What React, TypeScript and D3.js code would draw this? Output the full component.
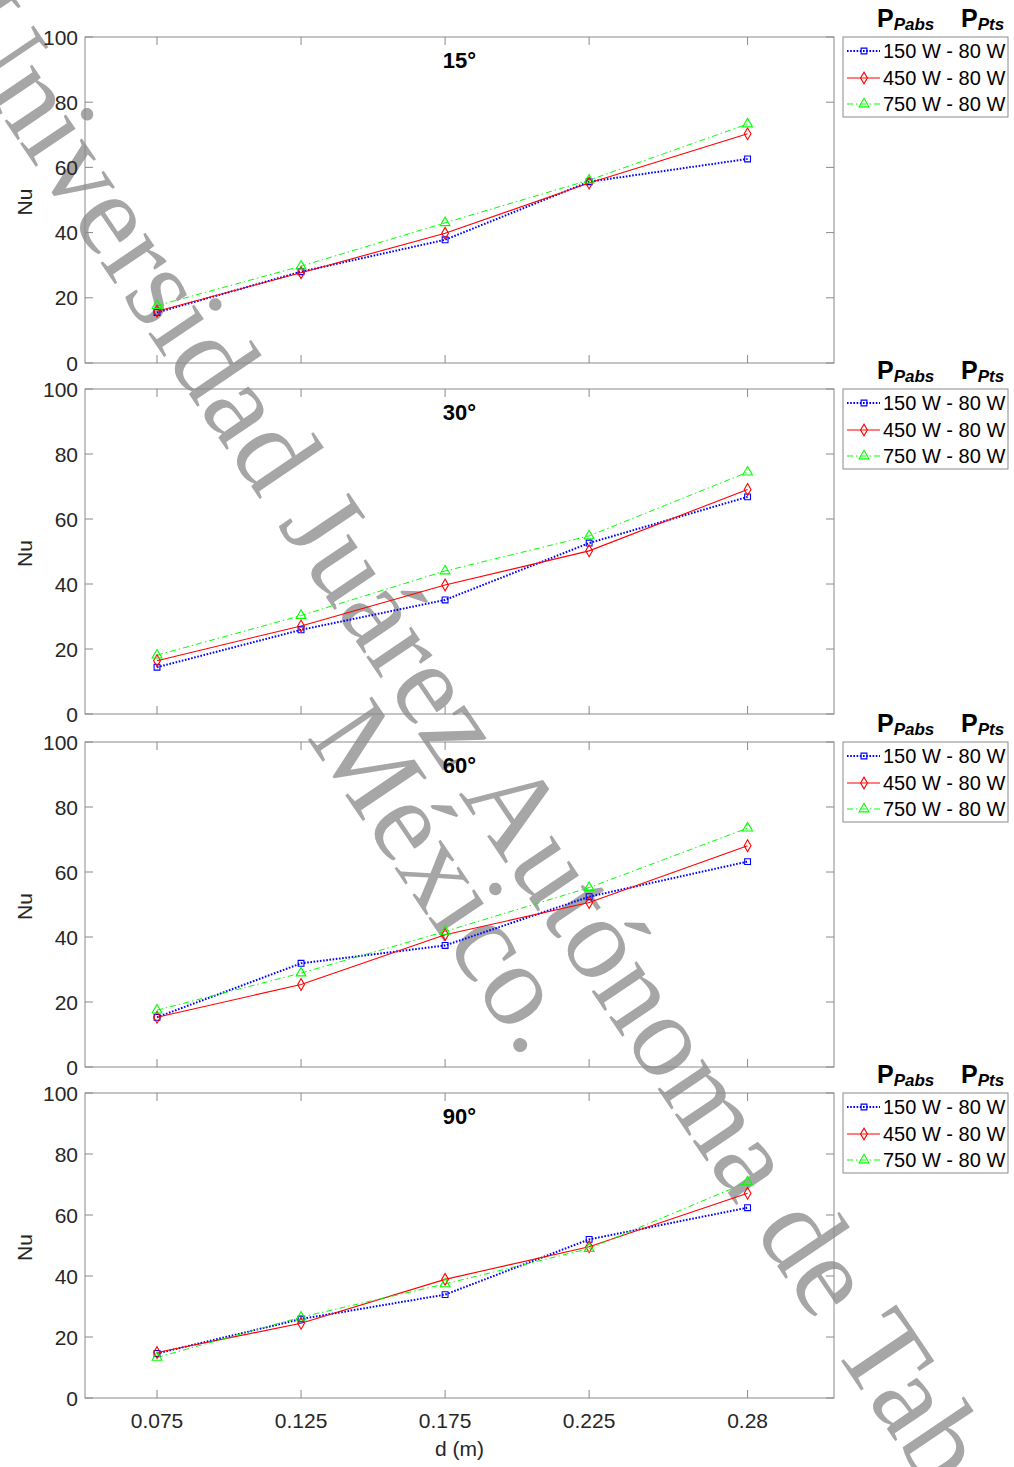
import React from "react";
import * as d3 from "d3";

const dValues = [0.075, 0.125, 0.175, 0.225, 0.28];
const xTickLabels = ["0.075", "0.125", "0.175", "0.225", "0.28"];
const yTicks = [0, 20, 40, 60, 80, 100];
const panelTitles = ["15°", "30°", "60°", "90°"];
const seriesLabels = ["150 W - 80 W", "450 W - 80 W", "750 W - 80 W"];

const nu15_150 = [15.5, 28.0, 37.8, 55.6, 62.6];
const nu15_450 = [15.9, 27.7, 39.8, 55.2, 70.3];
const nu15_750 = [17.6, 29.7, 43.0, 56.1, 73.3];

const nu30_150 = [14.4, 25.9, 35.1, 52.6, 66.8];
const nu30_450 = [16.4, 27.1, 39.7, 50.2, 69.1];
const nu30_750 = [18.1, 30.3, 44.0, 54.8, 74.4];

const nu60_150 = [15.3, 31.9, 37.4, 52.4, 63.2];
const nu60_450 = [15.3, 25.4, 40.7, 50.6, 68.1];
const nu60_750 = [17.5, 28.9, 41.7, 55.2, 73.5];

const nu90_150 = [14.6, 25.9, 33.9, 52.0, 62.4];
const nu90_450 = [14.9, 24.5, 38.9, 49.6, 67.1];
const nu90_750 = [13.3, 26.5, 37.4, 49.0, 70.8];

const panelSeries = [
  [nu15_150, nu15_450, nu15_750],
  [nu30_150, nu30_450, nu30_750],
  [nu60_150, nu60_450, nu60_750],
  [nu90_150, nu90_450, nu90_750],
];

const W = 1014;
const H = 1467;
const axLeft = 85;
const axRight = 834;
const panelTops = [37, 389, 742, 1093];
const panelBottoms = [363, 714, 1067, 1398];

const colors = ["#0000ff", "#ff0000", "#00ff00"];
const dashes = ["1.6,1.6", null, "6,3,1.5,3"];
const widths = [2, 1.1, 1];
const symbols = [d3.symbolSquare, d3.symbolDiamond, d3.symbolTriangle];
const symSizes = [34, 40, 42];

const axisColor = "#8a8a8a";
const textColor = "#262626";
const font = "'Liberation Sans', Arial, Helvetica, sans-serif";

const x = d3.scaleLinear().domain([0.05, 0.31]).range([axLeft, axRight]);

function Marker({ i, cx, cy }: { i: number; cx: number; cy: number }) {
  const p = d3.symbol().type(symbols[i]).size(symSizes[i])();
  return (
    <path
      d={p || ""}
      transform={`translate(${cx},${cy})`}
      fill="none"
      stroke={colors[i]}
      strokeWidth={1.1}
    />
  );
}

function Panel({ k }: { k: number }) {
  const top = panelTops[k];
  const bottom = panelBottoms[k];
  const y = d3.scaleLinear().domain([0, 100]).range([bottom, top]);
  const series = panelSeries[k];
  const isLast = k === panelTops.length - 1;
  const line = d3
    .line<number>()
    .x((_, j) => x(dValues[j]))
    .y((v) => y(v));
  const legTop = top;
  const legLeft = 843;
  const legRight = 1008;
  const rowY = [14, 41, 67];
  return (
    <g>
      <rect
        x={axLeft}
        y={top}
        width={axRight - axLeft}
        height={bottom - top}
        fill="none"
        stroke={axisColor}
        strokeWidth={1}
      />
      {dValues.map((d, j) => (
        <g key={"xt" + j}>
          <line x1={x(d)} x2={x(d)} y1={bottom} y2={bottom - 8} stroke={axisColor} />
          <line x1={x(d)} x2={x(d)} y1={top} y2={top + 8} stroke={axisColor} />
        </g>
      ))}
      {yTicks.map((t) => (
        <g key={"yt" + t}>
          <line x1={axLeft} x2={axLeft + 8} y1={y(t)} y2={y(t)} stroke={axisColor} />
          <line x1={axRight} x2={axRight - 8} y1={y(t)} y2={y(t)} stroke={axisColor} />
          <text
            x={78}
            y={y(t)}
            textAnchor="end"
            dominantBaseline="central"
            fontSize={21}
            fontFamily={font}
            fill={textColor}
          >
            {t}
          </text>
        </g>
      ))}
      <text
        transform={`translate(24,${(top + bottom) / 2 + 2}) rotate(-90)`}
        textAnchor="middle"
        dominantBaseline="central"
        fontSize={21}
        fontFamily={font}
        fill={textColor}
      >
        Nu
      </text>
      <text
        x={(axLeft + axRight) / 2}
        y={top + 31}
        textAnchor="middle"
        fontSize={22}
        fontWeight="bold"
        fontFamily={font}
        fill="#000"
      >
        {panelTitles[k]}
      </text>
      {series.map((s, i) => (
        <path
          key={"l" + i}
          d={line(s) || ""}
          fill="none"
          stroke={colors[i]}
          strokeWidth={widths[i]}
          strokeDasharray={dashes[i] || undefined}
        />
      ))}
      {series.map((s, i) =>
        s.map((v, j) => <Marker key={`m${i}-${j}`} i={i} cx={x(dValues[j])} cy={y(v)} />)
      )}
      {isLast &&
        dValues.map((d, j) => (
          <text
            key={"xl" + j}
            x={x(d)}
            y={bottom + 30}
            textAnchor="middle"
            fontSize={21}
            fontFamily={font}
            fill={textColor}
          >
            {xTickLabels[j]}
          </text>
        ))}
      {isLast && (
        <text
          x={(axLeft + axRight) / 2}
          y={bottom + 58}
          textAnchor="middle"
          fontSize={21}
          fontFamily={font}
          fill={textColor}
        >
          d (m)
        </text>
      )}
      {/* legend */}
      <text x={877} y={legTop - 10} fontFamily={font} fill="#000">
        <tspan fontSize={25} fontWeight="bold">P</tspan>
        <tspan fontSize={17} fontWeight="bold" fontStyle="italic" dy={3}>Pabs</tspan>
      </text>
      <text x={961} y={legTop - 10} fontFamily={font} fill="#000">
        <tspan fontSize={25} fontWeight="bold">P</tspan>
        <tspan fontSize={17} fontWeight="bold" fontStyle="italic" dy={3}>Pts</tspan>
      </text>
      <rect
        x={legLeft}
        y={legTop}
        width={legRight - legLeft}
        height={80}
        fill="#fff"
        stroke={axisColor}
        strokeWidth={1}
      />
      {seriesLabels.map((lab, i) => (
        <g key={"lg" + i}>
          <line
            x1={847}
            x2={880}
            y1={legTop + rowY[i]}
            y2={legTop + rowY[i]}
            stroke={colors[i]}
            strokeWidth={widths[i]}
            strokeDasharray={dashes[i] || undefined}
          />
          <Marker i={i} cx={864} cy={legTop + rowY[i]} />
          <text
            x={883}
            y={legTop + rowY[i]}
            dominantBaseline="central"
            fontSize={20}
            fontFamily={font}
            fill="#000"
          >
            {lab}
          </text>
        </g>
      ))}
    </g>
  );
}

export default function App() {
  const ang = 56;
  return (
    <svg
      width={W}
      height={H}
      style={{ position: "absolute", left: 0, top: 0, background: "#fff" }}
    >
      <rect x={0} y={0} width={W} height={H} fill="#fff" />
      <g fill="#a6a6a6" fontFamily="'Liberation Serif', 'Times New Roman', serif" fontSize={118}>
        <text transform={`translate(-62,22) rotate(${ang})`}>
          Universidad Juárez Autónoma de Tabasco
        </text>
        <text transform={`translate(306,737) rotate(${ang})`}>México.</text>
      </g>
      {panelTops.map((_, k) => (
        <Panel key={k} k={k} />
      ))}
    </svg>
  );
}
